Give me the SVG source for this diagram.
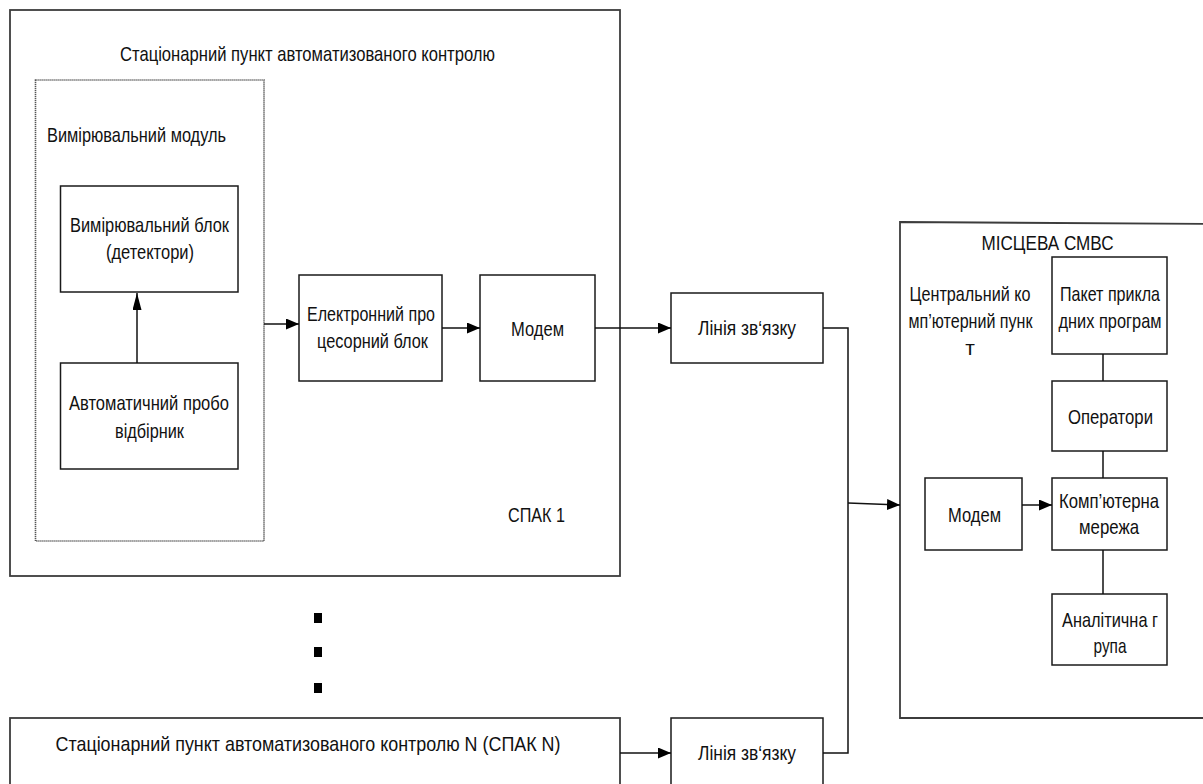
<svg xmlns="http://www.w3.org/2000/svg" width="1203" height="784" viewBox="0 0 1203 784">
<style>
  .t{font-family:"Liberation Sans Narrow","Arial Narrow","Liberation Sans",Arial,sans-serif;font-size:21px;fill:#111;}
  .m{text-anchor:middle;}
  .box{fill:#fff;stroke:#1a1a1a;stroke-width:1.5;}
  .cont{fill:none;stroke:#3c3c3c;stroke-width:1.8;}
  .dot{fill:none;stroke:#555;stroke-width:1.6;stroke-dasharray:1.2 0.8;}
  .ln{fill:none;stroke:#111;stroke-width:1.5;}
</style>
<defs>
  <marker id="ah" markerUnits="userSpaceOnUse" markerWidth="14" markerHeight="12" refX="13" refY="5.5" orient="auto">
    <path d="M0,0 L13,5.5 L0,11 z" fill="#000"/>
  </marker>
  <marker id="ahv" markerUnits="userSpaceOnUse" markerWidth="18" markerHeight="10" refX="17" refY="4.5" orient="auto">
    <path d="M0,0 L17,4.5 L0,9 z" fill="#000"/>
  </marker>
</defs>
<rect width="1203" height="784" fill="#fff"/>

<g id="spak1">
  <rect class="cont" x="10" y="10" width="610" height="566"/>
  <text class="t m" x="307.5" y="61" textLength="375" lengthAdjust="spacingAndGlyphs">Стаціонарний пункт автоматизованого контролю</text>
  <text class="t" x="508" y="522" textLength="57" lengthAdjust="spacingAndGlyphs">СПАК 1</text>
</g>

<g id="measure-module">
  <rect class="dot" x="35.5" y="80" width="228.5" height="461"/>
  <text class="t" x="47" y="142" textLength="179" lengthAdjust="spacingAndGlyphs">Вимірювальний модуль</text>
</g>

<g id="measure-block">
  <rect class="box" x="60.5" y="186" width="177.5" height="106"/>
  <text class="t m" x="149.5" y="232" textLength="159" lengthAdjust="spacingAndGlyphs">Вимірювальний блок</text>
  <text class="t m" x="150" y="259" textLength="88" lengthAdjust="spacingAndGlyphs">(детектори)</text>
</g>

<g id="sampler">
  <rect class="box" x="60.5" y="363" width="177.5" height="106"/>
  <text class="t m" x="149" y="410" textLength="160" lengthAdjust="spacingAndGlyphs">Автоматичний пробо</text>
  <text class="t m" x="149.5" y="438" textLength="69" lengthAdjust="spacingAndGlyphs">відбірник</text>
</g>

<g id="epb">
  <rect class="box" x="299" y="275" width="143" height="106"/>
  <text class="t m" x="371" y="321" textLength="128" lengthAdjust="spacingAndGlyphs">Електронний про</text>
  <text class="t m" x="372.5" y="348" textLength="111" lengthAdjust="spacingAndGlyphs">цесорний блок</text>
</g>

<g id="modem1">
  <rect class="box" x="480" y="275" width="115" height="106"/>
  <text class="t m" x="537.5" y="336" textLength="53" lengthAdjust="spacingAndGlyphs">Модем</text>
</g>

<g id="line1">
  <rect class="box" x="671" y="293" width="152" height="70"/>
  <text class="t m" x="747" y="335" textLength="98" lengthAdjust="spacingAndGlyphs">Лінія зв‘язку</text>
</g>

<g id="dots">
  <rect x="314" y="613" width="8" height="10" fill="#000"/>
  <rect x="314" y="647" width="8" height="10" fill="#000"/>
  <rect x="314" y="683" width="8" height="10" fill="#000"/>
</g>

<g id="spakN">
  <rect class="cont" x="10" y="718" width="610" height="80"/>
  <text class="t m" x="308" y="751" textLength="505" lengthAdjust="spacingAndGlyphs">Стаціонарний пункт автоматизованого контролю N (СПАК N)</text>
</g>

<g id="line2">
  <rect class="box" x="671" y="718" width="152" height="80"/>
  <text class="t m" x="747" y="760" textLength="98" lengthAdjust="spacingAndGlyphs">Лінія зв‘язку</text>
</g>

<g id="smvs">
  <path class="cont" d="M900,222 L1210,224 L1210,718 L900,718 Z"/>
  <text class="t m" x="1047.5" y="250" textLength="132" lengthAdjust="spacingAndGlyphs">МІСЦЕВА СМВС</text>
  <text class="t m" x="970" y="301" textLength="121" lengthAdjust="spacingAndGlyphs">Центральний ко</text>
  <text class="t m" x="970.5" y="328" textLength="124" lengthAdjust="spacingAndGlyphs">мп’ютерний пунк</text>
  <text class="t m" x="970" y="355">т</text>
</g>

<g id="software">
  <rect class="box" x="1052" y="257" width="115" height="97"/>
  <text class="t m" x="1110" y="301" textLength="100" lengthAdjust="spacingAndGlyphs">Пакет прикла</text>
  <text class="t m" x="1110" y="328" textLength="103" lengthAdjust="spacingAndGlyphs">дних програм</text>
</g>

<g id="operators">
  <rect class="box" x="1052" y="381" width="115" height="70"/>
  <text class="t m" x="1110.5" y="424" textLength="85" lengthAdjust="spacingAndGlyphs">Оператори</text>
</g>

<g id="modem2">
  <rect class="box" x="925" y="478" width="97" height="72"/>
  <text class="t m" x="974.5" y="522" textLength="53" lengthAdjust="spacingAndGlyphs">Модем</text>
</g>

<g id="network">
  <rect class="box" x="1052" y="478" width="115" height="72"/>
  <text class="t m" x="1109" y="508" textLength="100" lengthAdjust="spacingAndGlyphs">Комп’ютерна</text>
  <text class="t m" x="1109" y="534" textLength="60" lengthAdjust="spacingAndGlyphs">мережа</text>
</g>

<g id="analytics">
  <rect class="box" x="1052" y="594" width="115" height="71"/>
  <text class="t m" x="1110" y="627" textLength="96" lengthAdjust="spacingAndGlyphs">Аналітична г</text>
  <text class="t m" x="1110" y="653" textLength="33" lengthAdjust="spacingAndGlyphs">рупа</text>
</g>

<g id="connectors">
  <line class="ln" x1="137" y1="363" x2="137" y2="293" marker-end="url(#ahv)"/>
  <line class="ln" x1="264" y1="324" x2="299" y2="324" marker-end="url(#ah)"/>
  <line class="ln" x1="442" y1="328" x2="480" y2="328" marker-end="url(#ah)"/>
  <line class="ln" x1="595" y1="328" x2="671" y2="328" marker-end="url(#ah)"/>
  <polyline class="ln" points="823,328 848,328 848,753 823,753"/>
  <line class="ln" x1="848" y1="503" x2="900" y2="505" marker-end="url(#ah)"/>
  <line class="ln" x1="620" y1="753" x2="671" y2="753" marker-end="url(#ah)"/>
  <line class="ln" x1="1022" y1="505" x2="1052" y2="505" marker-end="url(#ah)"/>
  <line class="ln" x1="1103" y1="354" x2="1103" y2="381"/>
  <line class="ln" x1="1103" y1="451" x2="1103" y2="478"/>
  <line class="ln" x1="1103" y1="550" x2="1103" y2="594"/>
</g>
</svg>
